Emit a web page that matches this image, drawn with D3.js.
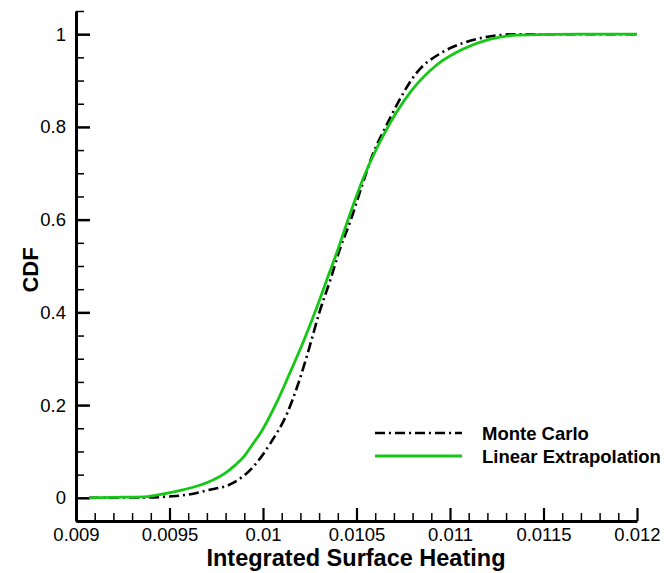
<!DOCTYPE html>
<html>
<head>
<meta charset="utf-8">
<script src="https://cdn.jsdelivr.net/npm/d3@7"></script>
<style>
  html, body { margin: 0; padding: 0; background: #fff; }
  svg { display: block; font-family: "Liberation Sans", Arial, Helvetica, sans-serif; }
</style>
</head>
<body>
<svg id="chart" width="668" height="573"></svg>
<script>
// ---- data ----
const mcX = [0.00907, 0.0092, 0.0094, 0.0095, 0.0096, 0.00966, 0.0097, 0.00984, 0.00995, 0.01004, 0.01013, 0.01019, 0.01025, 0.0103, 0.01036, 0.01041, 0.01047, 0.01053, 0.01059, 0.01065, 0.01072, 0.01082, 0.01095, 0.01107, 0.01121, 0.01136, 0.0115, 0.0118, 0.012];
const mcY = [0, 0.0005, 0.001, 0.003, 0.007, 0.012, 0.016, 0.032, 0.068, 0.118, 0.183, 0.248, 0.327, 0.398, 0.470, 0.535, 0.600, 0.674, 0.744, 0.795, 0.851, 0.916, 0.959, 0.981, 0.995, 1.0, 1.0, 1.0, 1.0];
const leX = [0.00907, 0.0092, 0.00936, 0.0095, 0.00966, 0.00973, 0.0098, 0.00985, 0.0099, 0.00994, 0.00999, 0.01007, 0.01014, 0.01022, 0.01029, 0.01035, 0.0104, 0.01043, 0.01054, 0.01064, 0.01079, 0.01093, 0.01107, 0.01121, 0.01136, 0.0117, 0.012];
const leY = [0, 0.001, 0.002, 0.011, 0.027, 0.038, 0.054, 0.07, 0.09, 0.113, 0.142, 0.203, 0.266, 0.341, 0.413, 0.48, 0.535, 0.571, 0.693, 0.779, 0.876, 0.934, 0.968, 0.989, 0.998, 1.0, 1.0];
const xTicks = [0.009, 0.0095, 0.01, 0.0105, 0.011, 0.0115, 0.012];
const xTickLabels = ["0.009", "0.0095", "0.01", "0.0105", "0.011", "0.0115", "0.012"];
const yTicks = [0, 0.2, 0.4, 0.6, 0.8, 1];
const yTickLabels = ["0", "0.2", "0.4", "0.6", "0.8", "1"];
const seriesNames = ["Monte Carlo", "Linear Extrapolation"];
const xTitle = "Integrated Surface Heating";
const yTitle = "CDF";

// ---- layout ----
const svg = d3.select("#chart");
const x = d3.scaleLinear().domain([0.009, 0.012]).range([76, 637]);
const y = d3.scaleLinear().domain([-0.05, 1.05]).range([521, 11]);
const green = "#16c816";
const font = "Liberation Sans, Arial, sans-serif";

// minor ticks
const xMinor = d3.range(0, 31).map(i => 0.009 + i * 0.0001).filter(v => !xTicks.some(t => Math.abs(t - v) < 1e-9));
const yMinor = d3.range(-1, 22).map(i => i * 0.05).filter(v => !yTicks.some(t => Math.abs(t - v) < 1e-9));

const gx = svg.append("g").attr("transform", "translate(0,521)");
gx.call(d3.axisBottom(x).tickValues(xMinor).tickSizeInner(-8).tickSizeOuter(0).tickFormat(""))
  .call(g => g.select(".domain").remove())
  .call(g => g.selectAll("line").attr("stroke", "#000").attr("stroke-width", 1.5));
const gx2 = svg.append("g").attr("transform", "translate(0,521)");
gx2.call(d3.axisBottom(x).tickValues(xTicks).tickSizeInner(-13).tickSizeOuter(0).tickPadding(7)
    .tickFormat((d, i) => xTickLabels[i]))
  .call(g => g.select(".domain").attr("stroke-width", 3))
  .call(g => g.selectAll("line").attr("stroke", "#000").attr("stroke-width", 2.2))
  .call(g => g.selectAll("text").attr("font-size", 18.5).attr("fill", "#000").attr("font-family", font));

const gy = svg.append("g").attr("transform", "translate(76,0)");
gy.call(d3.axisLeft(y).tickValues(yMinor).tickSizeInner(-8).tickSizeOuter(0).tickFormat(""))
  .call(g => g.select(".domain").remove())
  .call(g => g.selectAll("line").attr("stroke", "#000").attr("stroke-width", 1.5));
const gy2 = svg.append("g").attr("transform", "translate(76,0)");
gy2.call(d3.axisLeft(y).tickValues(yTicks).tickSizeInner(-14).tickSizeOuter(0).tickPadding(10)
    .tickFormat((d, i) => yTickLabels[i]))
  .call(g => g.select(".domain").attr("stroke-width", 3))
  .call(g => g.selectAll("line").attr("stroke", "#000").attr("stroke-width", 2.5))
  .call(g => g.selectAll("text").attr("font-size", 18.5).attr("fill", "#000").attr("font-family", font));

// ---- lines ----
const line = d3.line().x(d => x(d[0])).y(d => y(d[1])).curve(d3.curveMonotoneX);
const mc = mcX.map((v, i) => [v, mcY[i]]);
const le = leX.map((v, i) => [v, leY[i]]);

svg.append("path").datum(mc).attr("d", line)
  .attr("fill", "none").attr("stroke", "#000").attr("stroke-width", 2.6)
  .attr("stroke-dasharray", "10,4,2,4");
svg.append("path").datum(le).attr("d", line)
  .attr("fill", "none").attr("stroke", green).attr("stroke-width", 2.8);

// ---- titles ----
svg.append("text").attr("x", 356).attr("y", 566).attr("text-anchor", "middle")
  .attr("font-size", 23.5).attr("font-weight", "bold").text(xTitle);
svg.append("text").attr("transform", "translate(38,270) rotate(-90)").attr("text-anchor", "middle")
  .attr("font-size", 22).attr("font-weight", "bold").text(yTitle);

// ---- legend ----
const leg = svg.append("g");
const legY = [433, 456];
leg.append("line").attr("x1", 375).attr("x2", 462).attr("y1", legY[0]).attr("y2", legY[0])
  .attr("stroke", "#000").attr("stroke-width", 2.6).attr("stroke-dasharray", "10,4,2,4");
leg.append("line").attr("x1", 375).attr("x2", 462).attr("y1", legY[1]).attr("y2", legY[1])
  .attr("stroke", green).attr("stroke-width", 2.8);
seriesNames.forEach((n, i) => {
  leg.append("text").attr("x", 482).attr("y", legY[i] + 6.5)
    .attr("font-size", 18.5).attr("font-weight", "bold").text(n);
});
</script>
</body>
</html>
